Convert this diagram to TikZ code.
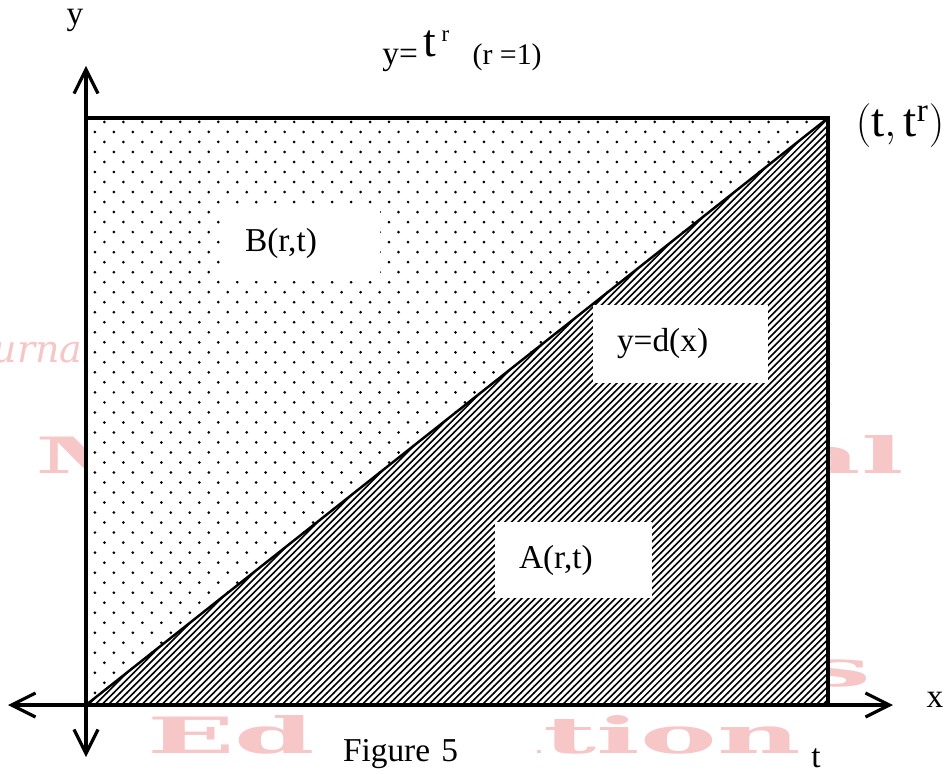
\documentclass[tikz,border=0pt]{standalone}
\usepackage{fontspec}
\setmainfont{Liberation Serif}
\newfontfamily\wmfont{DejaVu Serif}
\usepackage{tikz}
\usetikzlibrary{patterns}
\usetikzlibrary{arrows.meta}

\definecolor{wmpink}{RGB}{247,198,198}

\pgfdeclarepatternformonly{sparsedots}{\pgfqpoint{-1pt}{-1pt}}{\pgfqpoint{11.8pt}{12.4pt}}{\pgfqpoint{10.8pt}{11.4pt}}{%
  \pgfpathcircle{\pgfqpoint{0pt}{0pt}}{0.85pt}
  \pgfpathcircle{\pgfqpoint{5.4pt}{5.7pt}}{0.85pt}
  \pgfusepath{fill}}
\pgfdeclarepatternformonly{densehatch}{\pgfqpoint{-1pt}{-1pt}}{\pgfqpoint{4.8pt}{4.8pt}}{\pgfqpoint{3.8pt}{3.8pt}}{%
  \pgfsetlinewidth{0.9pt}
  \pgfpathmoveto{\pgfqpoint{-0.1pt}{-0.1pt}}
  \pgfpathlineto{\pgfqpoint{3.9pt}{3.9pt}}
  \pgfusepath{stroke}}

\tikzset{
  >={Straight Barb[length=0.48cm,width=0.48cm]},
  wm/.style={text=wmpink, inner sep=0pt, font=\wmfont\bfseries},
  lbl/.style={font=\fontsize{19}{22}\selectfont},
  boxlabel/.style={fill=white, align=left, inner ysep=0pt, font=\fontsize{19}{22}\selectfont}
}

\begin{document}
\begin{tikzpicture}

\useasboundingbox (0,0) rectangle (19.02,15.46);

\node[wm, anchor=base east] (wmjournal) at (1.9,8.22) {\resizebox{2.8cm}{!}{\mdseries\itshape Journal}};
\node[wm, anchor=south west] (wmmath) at (0.70,5.96) {\resizebox{17.36cm}{0.76cm}{Mathematical}};
\node[wm, anchor=south east] (wmsci) at (17.44,1.70) {\resizebox{11.6cm}{0.76cm}{Sciences}};
\node[wm, anchor=south west] (wmedu) at (2.94,0.36) {\resizebox{13.06cm}{0.76cm}{Education}};

\coordinate (O) at (1.72,1.36);
\coordinate (TL) at (1.72,13.10);
\coordinate (P) at (16.56,13.10);
\coordinate (BR) at (16.56,1.36);

\fill[white] (O) rectangle (P);
\fill[pattern=sparsedots] (O) -- (TL) -- (P) -- cycle;
\fill[pattern=densehatch] (O) -- (BR) -- (P) -- cycle;

\node[boxlabel, text width=2.2cm, inner xsep=0.5cm, minimum height=1.52cm] (Bbox) at (6.0,10.6) {B(r,t)};
\node[boxlabel, text width=2.54cm, inner xsep=0.48cm, minimum height=1.56cm] (dbox) at (13.61,8.58) {y=d(x)};
\node[boxlabel, text width=2.18cm, inner xsep=0.48cm, minimum height=1.52cm] (Abox) at (11.47,4.26) {A(r,t)};
\node[boxlabel, text width=3.3cm, inner xsep=0.58cm, minimum height=1.44cm] (figbox) at (8.51,0.38) {Figure 5};

\draw[line width=2pt] (O) rectangle (P);
\draw[line width=1.4pt] (O) -- (P);

\coordinate (ytop) at (1.72,14.14);
\coordinate (ybot) at (1.72,0.32);
\coordinate (xleft) at (0.16,1.36);
\coordinate (xright) at (17.86,1.36);

\draw[line width=1.8pt, <->] (ytop) -- (ybot);
\draw[line width=1.8pt, <->] (xleft) -- (xright);

\node[lbl] (ylbl) at (1.50,15.06) {y};
\node[lbl] (xlbl) at (18.70,1.46) {x};
\node[lbl] (tlbl) at (16.32,0.30) {t};

\node[lbl, anchor=base west, inner sep=0pt] (curve) at (7.64,14.16) {y=\hspace{0.12cm}\raisebox{0.16cm}{\fontsize{26}{30}\selectfont$\mathrm{t}^{\,\scriptscriptstyle\mathrm{r}}$}\hspace{0.45cm}{\fontsize{17}{20}\selectfont(r =1)}};

\node[font=\fontsize{27}{32}\selectfont] (corner) at (18.0,12.94) {$\left(\mathrm{t},\mathrm{t}^{\mathrm{r}}\right)$};

\end{tikzpicture}
\end{document}
